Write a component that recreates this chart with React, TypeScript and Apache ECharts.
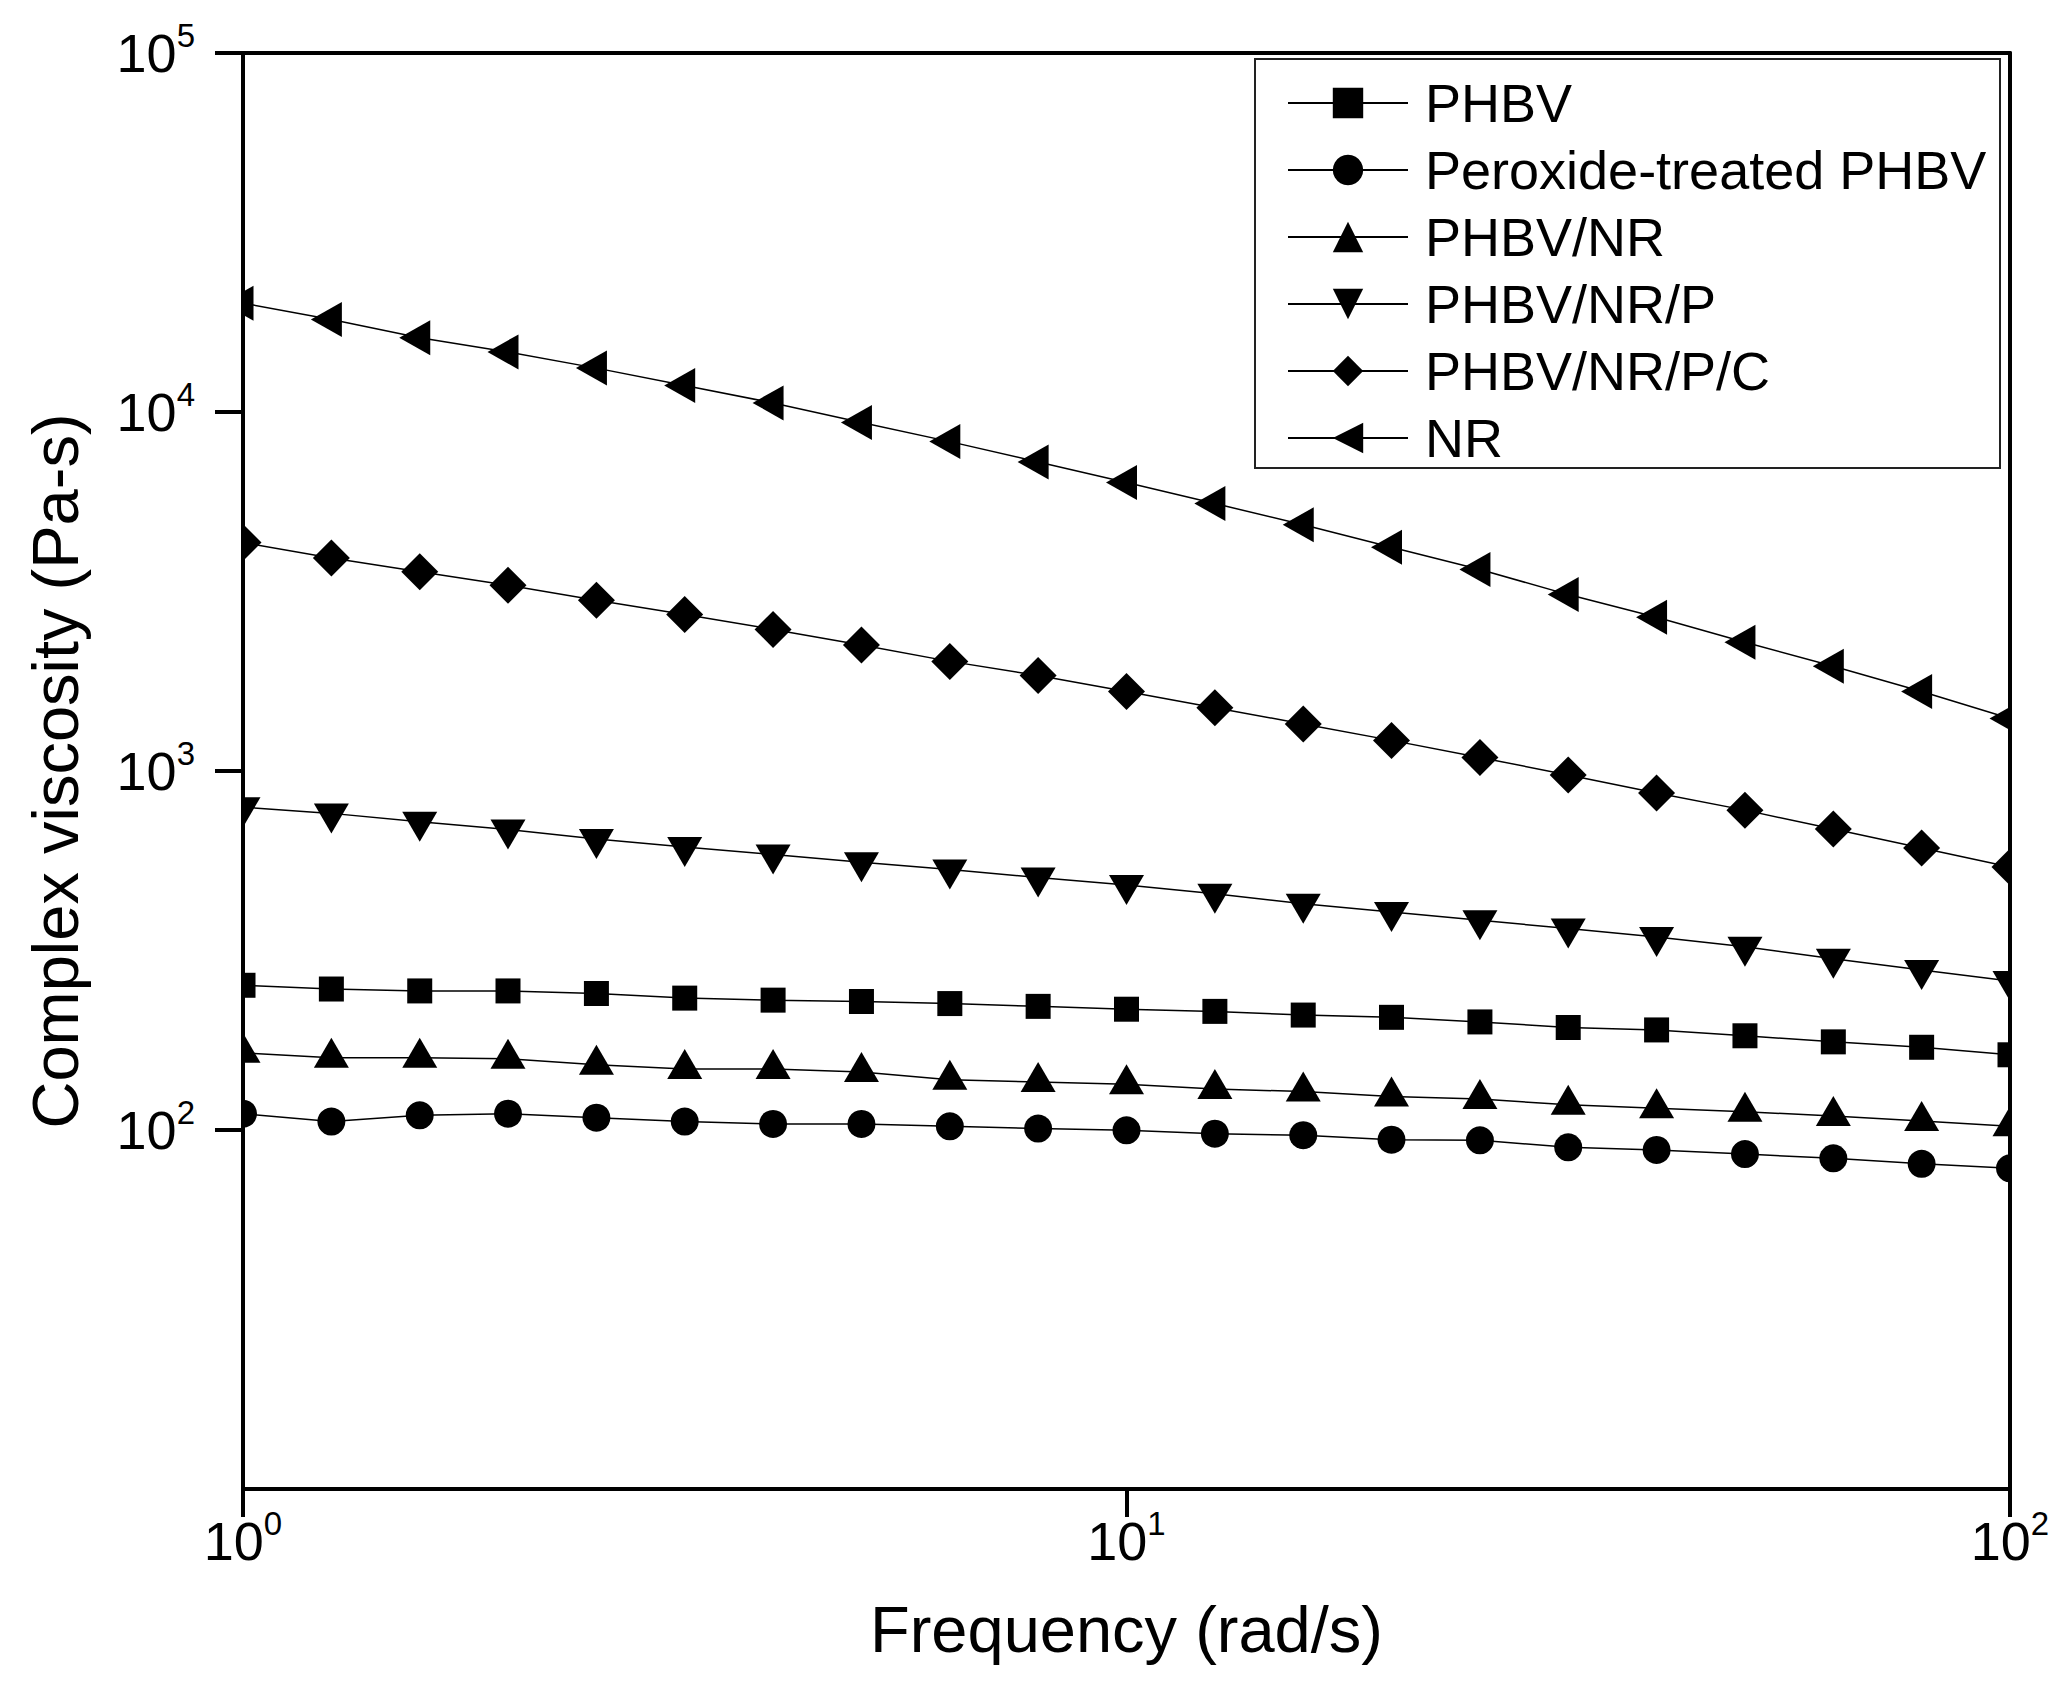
import React, { useEffect, useRef } from "react";
import * as echarts from "echarts";

const FONT = '"Liberation Sans", Arial, Helvetica, sans-serif';

// Angular frequency (rad/s), 10 points per decade
const freq = [1, 1.259, 1.585, 1.995, 2.512, 3.162, 3.981, 5.012, 6.31, 7.943, 10, 12.59, 15.85, 19.95, 25.12, 31.62, 39.81, 50.12, 63.1, 79.43, 100];

// Complex viscosity (Pa-s)
const phbv = [253, 247, 244, 244, 240, 233, 230, 228, 225, 221, 217, 214, 209, 206, 200, 193, 190, 183, 176, 170, 162];
const peroxidePhbv = [111, 105.6, 109.9, 111, 108.2, 105.6, 104, 104, 102.4, 100.9, 99.8, 97.7, 96.7, 94, 93.6, 89.5, 88, 85.7, 83.4, 80.5, 78.2];
const phbvNr = [164, 159, 159, 158, 152, 148, 148, 145, 138, 136, 134, 130, 128, 124, 122, 117.5, 115, 112.4, 109.4, 106, 102.4];
const phbvNrP = [793, 762, 722, 687, 647, 614, 585, 557, 532, 505, 481, 455, 427, 405, 384, 364, 345, 324, 300, 279, 260];
const phbvNrPC = [4330, 3920, 3590, 3290, 2990, 2730, 2480, 2245, 2020, 1845, 1665, 1501, 1352, 1217, 1091, 975, 869, 778, 689, 610, 540];
const nr = [20100, 18100, 16100, 14700, 13250, 11850, 10600, 9350, 8270, 7260, 6360, 5560, 4850, 4200, 3640, 3100, 2680, 2285, 1958, 1665, 1400];

const seriesNames = ["PHBV", "Peroxide-treated PHBV", "PHBV/NR", "PHBV/NR/P", "PHBV/NR/P/C", "NR"];
const seriesValues = [phbv, peroxidePhbv, phbvNr, phbvNrP, phbvNrPC, nr];

const symbols: any[] = [
  { symbol: "rect", symbolSize: 25, symbolOffset: [0, 0] },
  { symbol: "circle", symbolSize: 28, symbolOffset: [0, 0] },
  { symbol: "triangle", symbolSize: [35, 30], symbolOffset: [0, -5] },
  { symbol: "path://M0,0L10,0L5,8.6Z", symbolSize: [35, 30], symbolOffset: [0, 5] },
  { symbol: "diamond", symbolSize: [37, 37], symbolOffset: [0, 0] },
  { symbol: "path://M0,5L8.6,0L8.6,10Z", symbolSize: [31, 35], symbolOffset: [-5, 0] },
];

const rich = {
  b: { fontSize: 54, fontFamily: FONT, color: "#000", lineHeight: 68 },
  s: { fontSize: 33, fontFamily: FONT, color: "#000", lineHeight: 33, verticalAlign: "top" },
};

const powLabel = (hideExp: number | null) => (v: number) => {
  const e = Math.round(Math.log10(v));
  if (hideExp !== null && e === hideExp) return "";
  return `{b|10}{s|${e}}`;
};

export default function App() {
  const ref = useRef<HTMLDivElement>(null);

  useEffect(() => {
    if (!ref.current) return;
    const chart = echarts.init(ref.current, undefined, { renderer: "svg" });

    const series = seriesNames.map((name, k) => ({
      name,
      type: "line",
      xAxisIndex: 0,
      yAxisIndex: 0,
      data: freq.map((f, i) => [f, seriesValues[k][i]]),
      symbol: symbols[k].symbol,
      symbolSize: symbols[k].symbolSize,
      symbolOffset: symbols[k].symbolOffset,
      showAllSymbol: true,
      lineStyle: { color: "#000", width: 1.5 },
      itemStyle: { color: "#000" },
      emphasis: { disabled: true },
      z: 2,
    }));

    const option: any = {
      animation: false,
      backgroundColor: "#fff",
      tooltip: { show: false },
      grid: { left: 243, top: 53, right: 52, bottom: 193, containLabel: false },
      xAxis: [
        {
          type: "log",
          logBase: 10,
          min: 1,
          max: 100,
          position: "bottom",
          z: 10,
          axisLine: { show: true, onZero: false, lineStyle: { color: "#000", width: 4 } },
          axisTick: { show: true, inside: false, length: 28, lineStyle: { color: "#000", width: 4 } },
          minorTick: { show: false },
          splitLine: { show: false },
          axisLabel: { margin: 18, formatter: powLabel(null), rich },
          name: "Frequency (rad/s)",
          nameLocation: "middle",
          nameGap: 108,
          nameTextStyle: { fontSize: 65, fontFamily: FONT, color: "#000" },
        },
        {
          type: "log",
          logBase: 10,
          min: 1,
          max: 100,
          position: "top",
          z: 10,
          axisLine: { show: true, onZero: false, lineStyle: { color: "#000", width: 4 } },
          axisTick: { show: false },
          axisLabel: { show: false },
          splitLine: { show: false },
        },
      ],
      yAxis: [
        {
          type: "log",
          logBase: 10,
          min: 10,
          max: 100000,
          position: "left",
          z: 10,
          axisLine: { show: true, onZero: false, lineStyle: { color: "#000", width: 4 } },
          axisTick: { show: true, inside: false, length: 28, lineStyle: { color: "#000", width: 4 } },
          minorTick: { show: false },
          splitLine: { show: false },
          axisLabel: { margin: 48, formatter: powLabel(1), rich },
          name: "Complex viscosity (Pa-s)",
          nameLocation: "middle",
          nameGap: 155,
          nameTextStyle: { fontSize: 65, fontFamily: FONT, color: "#000" },
        },
        {
          type: "log",
          logBase: 10,
          min: 10,
          max: 100000,
          position: "right",
          z: 10,
          axisLine: { show: true, onZero: false, lineStyle: { color: "#000", width: 4 } },
          axisTick: { show: false },
          axisLabel: { show: false },
          splitLine: { show: false },
        },
      ],
      legend: {
        show: true,
        orient: "vertical",
        left: 1287,
        top: 76,
        padding: 0,
        itemWidth: 120,
        itemHeight: 38,
        itemGap: 13,
        selectedMode: false,
        data: seriesNames,
        lineStyle: { width: 2, color: "#000" },
        itemStyle: { color: "#000" },
        textStyle: { fontSize: 54, fontFamily: FONT, color: "#000", lineHeight: 54, padding: [0, 0, 0, 12] },
        z: 20,
      },
      graphic: [
        {
          type: "rect",
          z: 5,
          silent: true,
          shape: { x: 185, y: 40, width: 56, height: 1447 },
          style: { fill: "#fff" },
        },
        {
          type: "rect",
          z: 5,
          silent: true,
          shape: { x: 2012, y: 40, width: 48, height: 1447 },
          style: { fill: "#fff" },
        },
        {
          type: "rect",
          z: 11,
          silent: true,
          shape: { x: 205, y: 1483, width: 36, height: 12 },
          style: { fill: "#fff" },
        },
        {
          type: "rect",
          z: 21,
          silent: true,
          shape: { x: 1255, y: 59, width: 745, height: 409 },
          style: { fill: "none", stroke: "#222", lineWidth: 2 },
        },
      ],
      series,
    };

    chart.setOption(option);
    return () => chart.dispose();
  }, []);

  return (
    <div
      ref={ref}
      style={{ position: "absolute", left: 0, top: 0, width: 2062, height: 1682, background: "#fff" }}
    />
  );
}
